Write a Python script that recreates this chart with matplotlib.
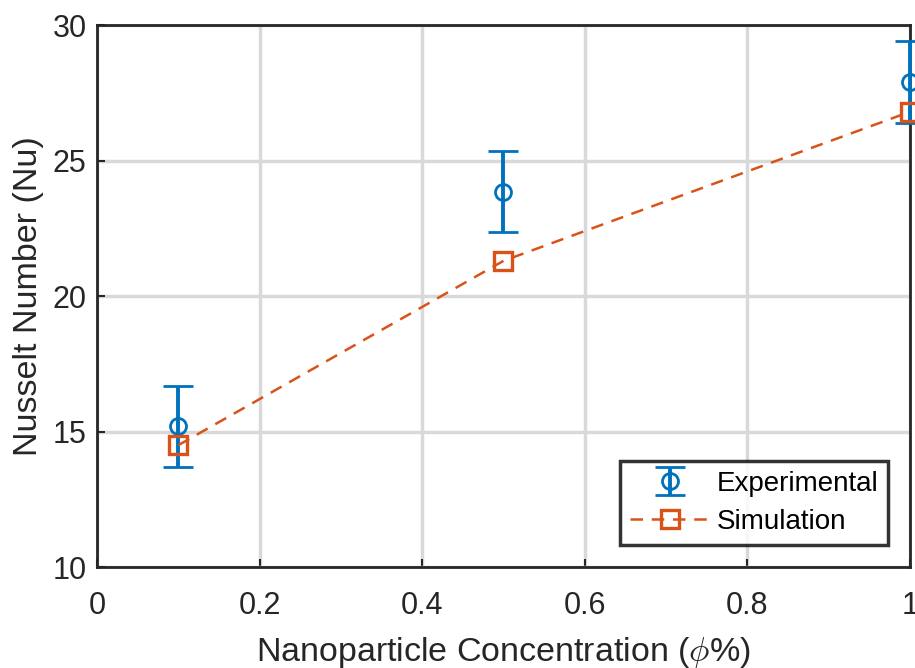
import matplotlib
matplotlib.use("Agg")
import matplotlib.pyplot as plt

# concentration (phi %) and Nusselt numbers
conc = [0.1, 0.5, 1.0]
nu_exp = [15.2, 23.85, 27.9]
nu_err = [1.5, 1.5, 1.5]
nu_sim = [14.5, 21.3, 26.8]

xticks = [0, 0.2, 0.4, 0.6, 0.8, 1]
yticks = [10, 15, 20, 25, 30]

plt.rcParams['font.family'] = ['Liberation Sans', 'DejaVu Sans']
plt.rcParams['mathtext.fontset'] = 'cm'

blue = '#0072BD'
orange = '#D95319'
dark = '#262626'

fig = plt.figure(figsize=(9.15, 6.68), dpi=100)
ax = fig.add_axes([0.106, 0.151, 0.8885, 0.8115])

h_exp = ax.errorbar(conc, nu_exp, yerr=nu_err, fmt='o', color=blue, mfc='none',
                    markersize=11.5, mew=2.0, elinewidth=2.8, capsize=10.5, capthick=2.8,
                    label='Experimental', clip_on=False, zorder=3)
h_sim, = ax.plot(conc, nu_sim, '--s', color=orange, mfc='none', markersize=12.5, mew=2.4,
                 lw=1.8, dashes=(5, 3.5), label='Simulation', clip_on=False, zorder=4)

ax.set_xlim(0, 1)
ax.set_ylim(10, 30)
ax.set_xticks(xticks)
ax.set_xticklabels(['0', '0.2', '0.4', '0.6', '0.8', '1'])
ax.set_yticks(yticks)
ax.tick_params(direction='in', length=6, width=1.5, colors=dark, labelsize=22)
ax.tick_params(axis='x', pad=17)
ax.tick_params(axis='y', pad=7.5)
ax.grid(True, color='#d9d9d9', linewidth=2.5)
ax.set_axisbelow(True)
for sp in ax.spines.values():
    sp.set_color(dark)
    sp.set_linewidth(2.0)

ax.set_xlabel(r'Nanoparticle Concentration ($\phi$%)', fontsize=24.5, color=dark, labelpad=10)
ax.set_ylabel('Nusselt Number (Nu)', fontsize=24.5, color=dark, labelpad=6)

leg = ax.legend([h_exp, h_sim], ['Experimental', 'Simulation'], loc='lower right',
                fontsize=20, frameon=True, fancybox=False, edgecolor='black',
                borderaxespad=0.8, handlelength=2.85, handletextpad=0.25,
                borderpad=0.35, labelspacing=0.45)
leg.get_frame().set_linewidth(2.5)

fig.savefig('out.png', dpi=100)
